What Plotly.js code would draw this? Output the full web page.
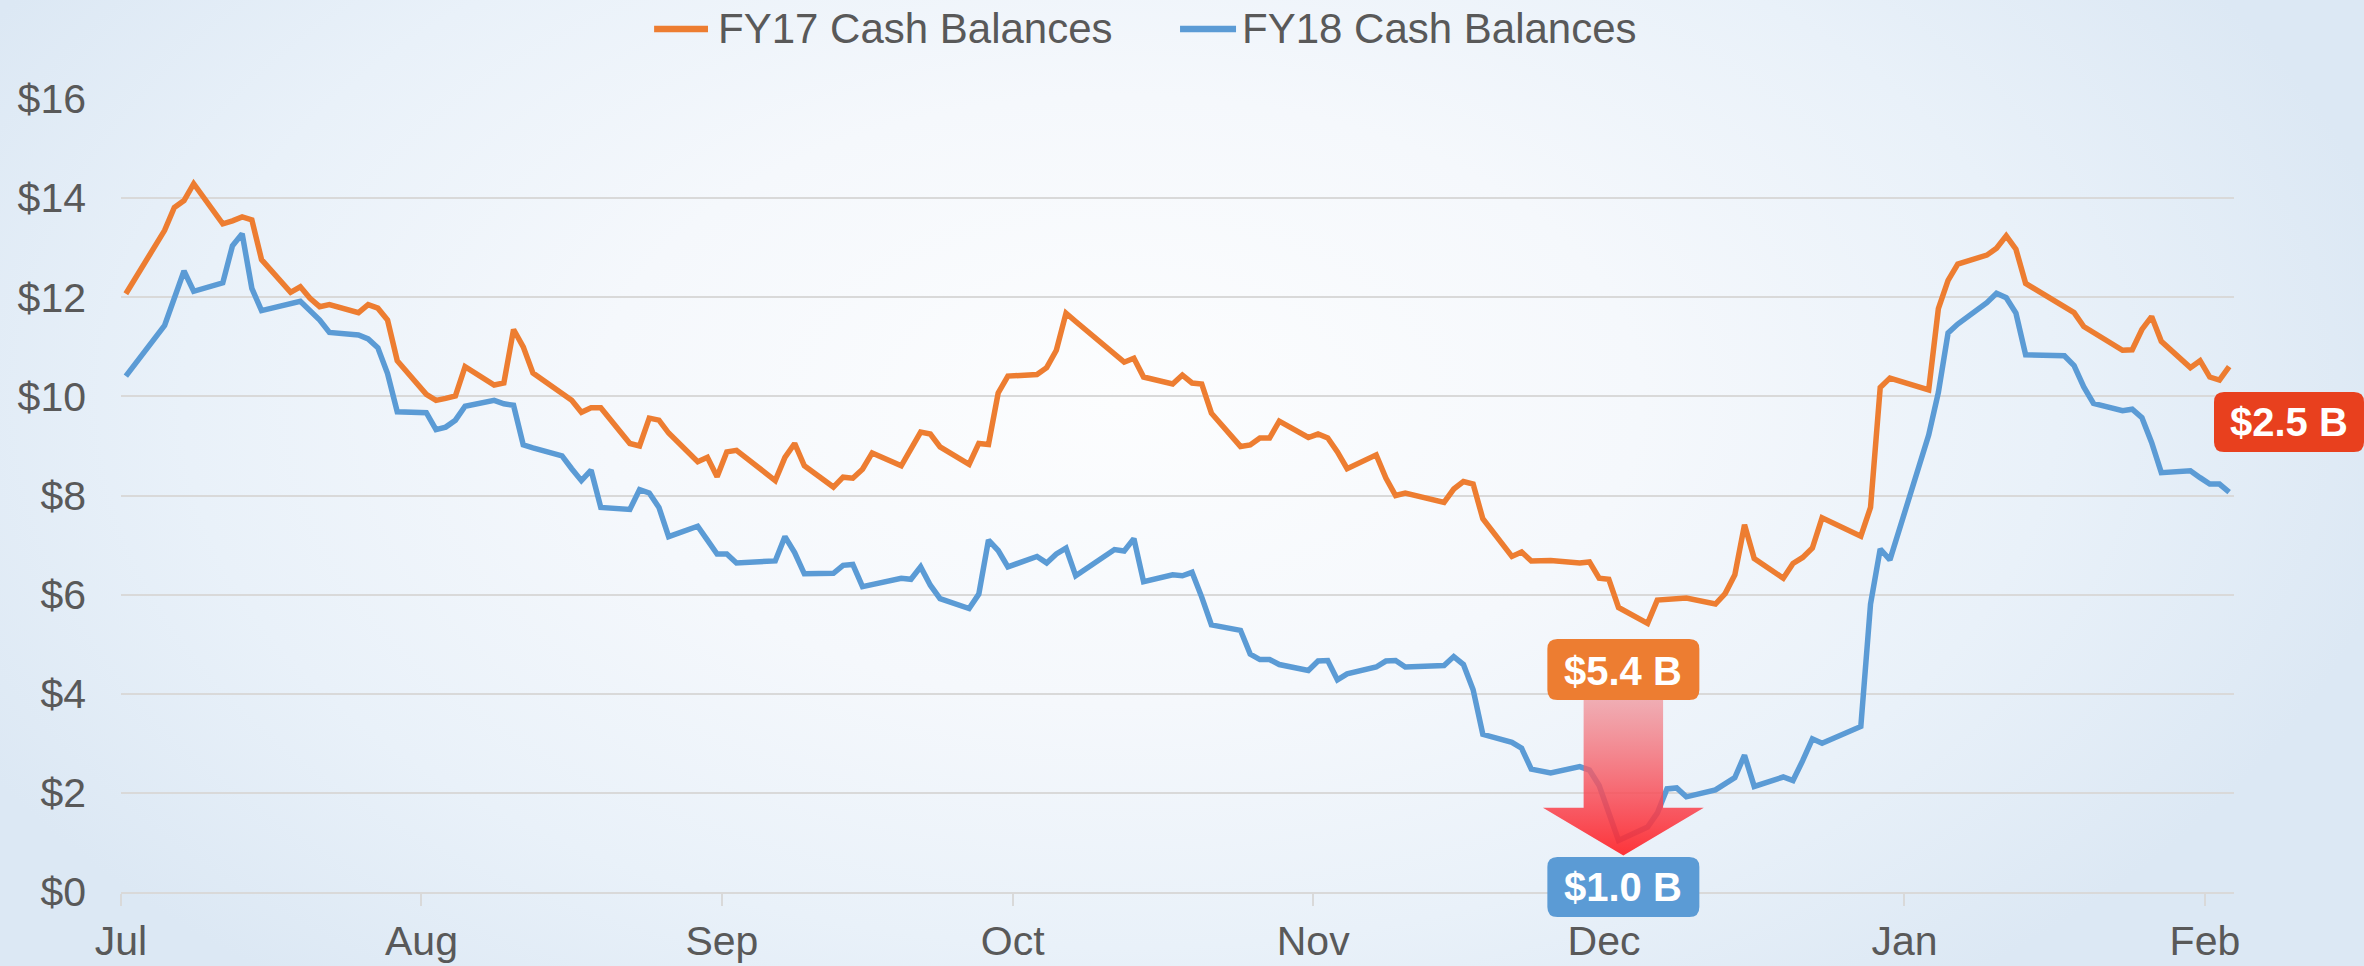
<!DOCTYPE html>
<html>
<head>
<meta charset="utf-8">
<script src="https://cdn.plot.ly/plotly-3.0.1.min.js"></script>
<style>
html,body{margin:0;padding:0;width:2364px;height:966px;overflow:hidden;}
body{background: radial-gradient(ellipse 1300px 760px at 1120px 400px, #fcfdfe 0%, #f5f8fc 40%, #e9f1f9 72%, #dce8f4 100%);}
#chart{width:2364px;height:966px;}
</style>
</head>
<body>
<div id="chart"></div>
<script>
// ---------------- DATA ----------------
const seriesNames = ['FY17 Cash Balances', 'FY18 Cash Balances'];

const fy17Dates = ['2016-07-01','2016-07-05','2016-07-06','2016-07-07','2016-07-08','2016-07-11','2016-07-12','2016-07-13','2016-07-14','2016-07-15','2016-07-18','2016-07-19','2016-07-20','2016-07-21','2016-07-22','2016-07-25','2016-07-26','2016-07-27','2016-07-28','2016-07-29',
'2016-08-01','2016-08-02','2016-08-03','2016-08-04','2016-08-05','2016-08-08','2016-08-09','2016-08-10','2016-08-11','2016-08-12','2016-08-16','2016-08-17','2016-08-18','2016-08-19','2016-08-22','2016-08-23','2016-08-24','2016-08-25','2016-08-26','2016-08-29','2016-08-30','2016-08-31',
'2016-09-01','2016-09-02','2016-09-06','2016-09-07','2016-09-08','2016-09-09','2016-09-12','2016-09-13','2016-09-14','2016-09-15','2016-09-16','2016-09-19','2016-09-21','2016-09-22','2016-09-23','2016-09-26','2016-09-27','2016-09-28','2016-09-29','2016-09-30',
'2016-10-03','2016-10-04','2016-10-05','2016-10-06','2016-10-07','2016-10-11','2016-10-12','2016-10-13','2016-10-14','2016-10-17','2016-10-18','2016-10-19','2016-10-20','2016-10-21','2016-10-24','2016-10-25','2016-10-26','2016-10-27','2016-10-28','2016-10-31',
'2016-11-01','2016-11-02','2016-11-03','2016-11-04','2016-11-07','2016-11-08','2016-11-09','2016-11-10','2016-11-14','2016-11-15','2016-11-16','2016-11-17','2016-11-18','2016-11-21','2016-11-22','2016-11-23','2016-11-25','2016-11-28','2016-11-29','2016-11-30',
'2016-12-01','2016-12-02','2016-12-05','2016-12-06','2016-12-09','2016-12-12','2016-12-13','2016-12-14','2016-12-15','2016-12-16','2016-12-19','2016-12-20','2016-12-21','2016-12-22','2016-12-23','2016-12-27','2016-12-28','2016-12-29','2016-12-30',
'2017-01-03','2017-01-04','2017-01-05','2017-01-06','2017-01-09','2017-01-10','2017-01-11','2017-01-12','2017-01-13','2017-01-17','2017-01-18','2017-01-19','2017-01-23','2017-01-24','2017-01-25','2017-01-26','2017-01-27','2017-01-30','2017-01-31',
'2017-02-01','2017-02-02','2017-02-03'];
const fy17Values = [12.07,13.35,13.81,13.95,14.29,13.48,13.54,13.62,13.56,12.76,12.10,12.21,11.98,11.81,11.85,11.69,11.85,11.78,11.54,10.72,
10.04,9.92,9.96,10.01,10.60,10.23,10.27,11.35,11.00,10.47,9.92,9.68,9.77,9.77,9.05,9.00,9.56,9.52,9.26,8.68,8.77,8.38,
8.88,8.91,8.30,8.77,9.05,8.60,8.17,8.37,8.35,8.53,8.86,8.60,9.28,9.24,8.98,8.63,9.05,9.03,10.07,10.41,
10.44,10.58,10.93,11.68,11.51,10.85,10.69,10.77,10.39,10.25,10.43,10.27,10.25,9.66,8.99,9.02,9.16,9.16,9.50,9.17,
9.24,9.16,8.88,8.54,8.82,8.35,8.00,8.05,7.86,8.13,8.28,8.23,7.53,6.77,6.86,6.68,6.69,6.64,6.66,6.33,
6.31,5.74,5.42,5.89,5.93,5.81,6.02,6.40,7.41,6.73,6.33,6.63,6.75,6.94,7.55,7.18,7.76,10.18,10.37,
10.13,11.77,12.34,12.67,12.85,12.99,13.24,12.97,12.28,11.83,11.69,11.41,10.93,10.94,11.35,11.61,11.11,10.58,10.72,
10.39,10.33,10.60];

const fy18Dates = ['2016-07-01','2016-07-05','2016-07-07','2016-07-08','2016-07-11','2016-07-12','2016-07-13','2016-07-14','2016-07-15','2016-07-18','2016-07-19','2016-07-21','2016-07-22','2016-07-25','2016-07-26','2016-07-27','2016-07-28','2016-07-29',
'2016-08-01','2016-08-02','2016-08-03','2016-08-04','2016-08-05','2016-08-08','2016-08-09','2016-08-10','2016-08-11','2016-08-12','2016-08-15','2016-08-16','2016-08-17','2016-08-18','2016-08-19','2016-08-22','2016-08-23','2016-08-24','2016-08-25','2016-08-26','2016-08-29','2016-08-30','2016-08-31',
'2016-09-01','2016-09-02','2016-09-06','2016-09-07','2016-09-08','2016-09-09','2016-09-12','2016-09-13','2016-09-14','2016-09-15','2016-09-19','2016-09-20','2016-09-21','2016-09-22','2016-09-23','2016-09-26','2016-09-27','2016-09-28','2016-09-29','2016-09-30',
'2016-10-03','2016-10-04','2016-10-05','2016-10-06','2016-10-07','2016-10-11','2016-10-12','2016-10-13','2016-10-14','2016-10-17','2016-10-18','2016-10-19','2016-10-20','2016-10-21','2016-10-24','2016-10-25','2016-10-26','2016-10-27','2016-10-28','2016-10-31',
'2016-11-01','2016-11-02','2016-11-03','2016-11-04','2016-11-07','2016-11-08','2016-11-09','2016-11-10','2016-11-14','2016-11-15','2016-11-16','2016-11-17','2016-11-18','2016-11-21','2016-11-22','2016-11-23','2016-11-25','2016-11-28','2016-11-29','2016-11-30',
'2016-12-02','2016-12-05','2016-12-06','2016-12-07','2016-12-08','2016-12-09','2016-12-12','2016-12-13','2016-12-14','2016-12-15','2016-12-16','2016-12-19','2016-12-20','2016-12-21','2016-12-22','2016-12-23','2016-12-27','2016-12-28','2016-12-29','2016-12-30',
'2017-01-03','2017-01-04','2017-01-05','2017-01-06','2017-01-09','2017-01-10','2017-01-11','2017-01-12','2017-01-13','2017-01-17','2017-01-18','2017-01-19','2017-01-20','2017-01-23','2017-01-24','2017-01-25','2017-01-26','2017-01-27','2017-01-30','2017-01-31',
'2017-02-01','2017-02-02','2017-02-03'];
const fy18Values = [10.41,11.43,12.53,12.12,12.29,13.04,13.28,12.18,11.73,11.86,11.92,11.54,11.29,11.24,11.16,10.98,10.46,9.69,
9.67,9.33,9.38,9.52,9.80,9.92,9.85,9.82,9.02,8.96,8.80,8.54,8.30,8.51,7.76,7.72,8.12,8.05,7.76,7.17,7.38,7.10,6.82,
6.82,6.64,6.68,7.17,6.85,6.42,6.43,6.59,6.61,6.16,6.33,6.31,6.56,6.19,5.92,5.72,6.01,7.10,6.89,6.56,
6.77,6.64,6.82,6.94,6.38,6.91,6.88,7.13,6.26,6.40,6.38,6.45,5.95,5.39,5.28,4.80,4.69,4.69,4.59,4.47,
4.66,4.67,4.28,4.40,4.54,4.66,4.67,4.54,4.57,4.75,4.59,4.08,3.18,3.02,2.90,2.48,2.40,2.53,2.46,2.15,
1.04,1.31,1.59,2.08,2.10,1.92,2.06,2.17,2.31,2.76,2.13,2.32,2.25,2.65,3.09,3.00,3.34,5.81,6.92,6.70,
9.22,10.08,11.28,11.46,11.89,12.08,11.99,11.68,10.84,10.82,10.62,10.19,9.86,9.71,9.74,9.57,9.07,8.46,8.50,8.36,
8.23,8.23,8.07];

const calloutTexts = ['$5.4 B', '$1.0 B', '$2.5 B'];

// ---------------- STYLE / LAYOUT CONSTANTS ----------------
const FONT = 'Liberation Sans, Arial, sans-serif';
const TEXT_GRAY = '#595959';
const GRID = '#d9d9d9';
const ORANGE = '#ed7d31';
const BLUE = '#5b9bd5';
const RED = '#e8401e';
const X_RANGE = ['2016-07-01', '2017-02-04'];
const DAY = 86400000;
const xr0 = Date.UTC(2016, 6, 1), xr1 = Date.UTC(2017, 1, 4);
const calloutDate = Date.UTC(2016, 11, 3);
const calloutXPaper = (calloutDate - xr0) / (xr1 - xr0);

// arrow geometry (decoration), half widths in days, heights in $
const arrowShaftHalf = 4.1, arrowHeadHalf = 8.3;
const arrowTopVal = 3.88, arrowHeadVal = 1.70, arrowTipVal = 0.735;
const arrowX = [-arrowShaftHalf, arrowShaftHalf, arrowShaftHalf, arrowHeadHalf, 0, -arrowHeadHalf, -arrowShaftHalf, -arrowShaftHalf]
  .map(d => calloutDate + d * DAY);
const arrowY = [arrowTopVal, arrowTopVal, arrowHeadVal, arrowHeadVal, arrowTipVal, arrowHeadVal, arrowHeadVal, arrowTopVal];

function roundRect(x0, y0, x1, y1, r) {
  return `M${x0+r},${y0} L${x1-r},${y0} Q${x1},${y0} ${x1},${y0+r} L${x1},${y1-r} Q${x1},${y1} ${x1-r},${y1} ` +
         `L${x0+r},${y1} Q${x0},${y1} ${x0},${y1-r} L${x0},${y0+r} Q${x0},${y0} ${x0+r},${y0} Z`;
}

const traces = [
  {
    type: 'scatter', mode: 'lines', name: seriesNames[0],
    x: fy17Dates, y: fy17Values, xperiod: DAY, xperiodalignment: 'middle',
    line: {color: ORANGE, width: 5.5}, hoverinfo: 'skip'
  },
  {
    type: 'scatter', mode: 'lines', name: seriesNames[1],
    x: fy18Dates, y: fy18Values, xperiod: DAY, xperiodalignment: 'middle',
    line: {color: BLUE, width: 5.5}, hoverinfo: 'skip'
  },
  {
    type: 'scatter', mode: 'none', x: arrowX, y: arrowY, fill: 'toself',
    fillgradient: {type: 'vertical', colorscale: [[0, 'rgba(255,35,40,0.92)'], [0.3, 'rgba(250,65,75,0.86)'], [1, 'rgba(240,145,152,0.72)']]},
    hoverinfo: 'skip', showlegend: false
  }
];

const legendY = 1.0883;
const layout = {
  width: 2364, height: 966,
  margin: {l: 121, r: 130, t: 99, b: 74, pad: 0},
  paper_bgcolor: 'rgba(0,0,0,0)', plot_bgcolor: 'rgba(0,0,0,0)',
  font: {family: FONT, size: 41, color: TEXT_GRAY},
  showlegend: false,
  hovermode: false,
  xaxis: {
    type: 'date', range: X_RANGE, tickformat: '%b', dtick: 'M1', tick0: '2016-07-01',
    ticks: 'outside', ticklen: 12, tickwidth: 2, tickcolor: GRID,
    showgrid: false, showline: true, linecolor: GRID, linewidth: 2, zeroline: false,
    tickfont: {family: FONT, size: 41, color: TEXT_GRAY}
  },
  yaxis: {
    range: [0, 16], dtick: 2, tick0: 0, tickprefix: '$',
    showgrid: true, gridcolor: GRID, gridwidth: 2, zeroline: false, showline: false,
    ticks: '', ticklabelstandoff: 34,
    tickfont: {family: FONT, size: 41, color: TEXT_GRAY}
  },
  shapes: [
    // custom legend line symbols
    {type: 'line', xref: 'paper', yref: 'paper', x0: 0.2523, x1: 0.2778, y0: legendY, y1: legendY, line: {color: ORANGE, width: 6.5}},
    {type: 'line', xref: 'paper', yref: 'paper', x0: 0.5012, x1: 0.5277, y0: legendY, y1: legendY, line: {color: BLUE, width: 6.5}},
    // callout boxes
    {type: 'path', xref: 'paper', yref: 'paper', xsizemode: 'pixel', ysizemode: 'pixel', xanchor: calloutXPaper, yanchor: 0,
     path: roundRect(-76, 192, 76, 253, 10), fillcolor: ORANGE, line: {width: 0}, layer: 'above'},
    {type: 'path', xref: 'paper', yref: 'paper', xsizemode: 'pixel', ysizemode: 'pixel', xanchor: calloutXPaper, yanchor: 0,
     path: roundRect(-76, -25, 76, 35, 10), fillcolor: BLUE, line: {width: 0}, layer: 'above'},
    {type: 'path', xref: 'paper', yref: 'paper', xsizemode: 'pixel', ysizemode: 'pixel', xanchor: 1, yanchor: 0,
     path: roundRect(-20, 440, 130, 500, 10), fillcolor: RED, line: {width: 0}, layer: 'above'}
  ],
  annotations: [
    {xref: 'paper', yref: 'paper', x: 0.2816, y: legendY, xanchor: 'left', yanchor: 'middle', showarrow: false,
     text: seriesNames[0], font: {family: FONT, size: 42, color: TEXT_GRAY}},
    {xref: 'paper', yref: 'paper', x: 0.5296, y: legendY, xanchor: 'left', yanchor: 'middle', showarrow: false,
     text: seriesNames[1], font: {family: FONT, size: 42, color: TEXT_GRAY}},
    {xref: 'paper', yref: 'paper', x: calloutXPaper, y: 0, yshift: 221, xanchor: 'center', yanchor: 'middle', showarrow: false,
     text: '<b>' + calloutTexts[0] + '</b>', font: {family: FONT, size: 40, color: '#ffffff'}},
    {xref: 'paper', yref: 'paper', x: calloutXPaper, y: 0, yshift: 5, xanchor: 'center', yanchor: 'middle', showarrow: false,
     text: '<b>' + calloutTexts[1] + '</b>', font: {family: FONT, size: 40, color: '#ffffff'}},
    {xref: 'paper', yref: 'paper', x: 1, xshift: 55, y: 0, yshift: 470, xanchor: 'center', yanchor: 'middle', showarrow: false,
     text: '<b>' + calloutTexts[2] + '</b>', font: {family: FONT, size: 40, color: '#ffffff'}}
  ]
};

Plotly.newPlot('chart', traces, layout, {displayModeBar: false, staticPlot: true});
</script>
</body>
</html>
